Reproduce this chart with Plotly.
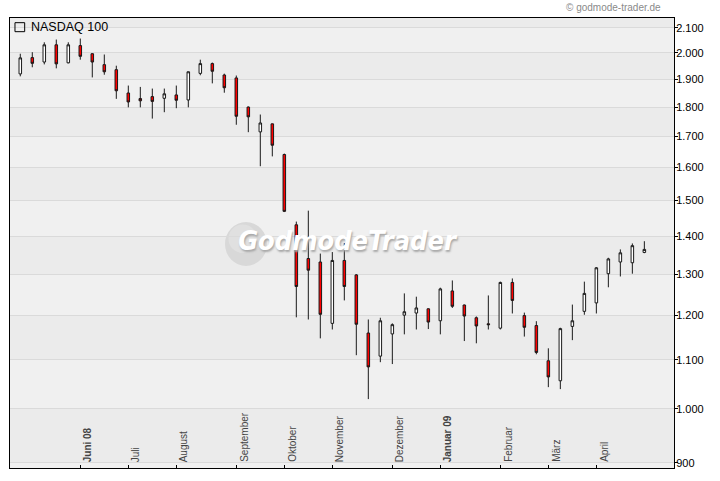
import math
import pandas as pd
import plotly.graph_objects as go

# ---------------- data (weekly NASDAQ 100, week starting dates) ----------------
first_week = "2008-04-28"
opens = [1920, 1982, 1965, 2032, 1962, 2029, 1997, 1955, 1936, 1850,
         1830, 1837, 1831, 1843, 1825, 1922, 1959, 1916, 1905, 1800,
         1715, 1742, 1641, 1431, 1340, 1331, 1181, 1335, 1298, 1159,
         1108, 1157, 1200, 1205, 1215, 1187, 1258, 1224, 1194, 1180,
         1170, 1279, 1199, 1176, 1098, 1056, 1174, 1209, 1229, 1301,
         1331, 1329, 1356]
highs = [1997, 2003, 2042, 2053, 2042, 2057, 1999, 1994, 1951, 1877,
         1872, 1866, 1866, 1877, 1929, 1974, 1963, 1921, 1914, 1802,
         1774, 1743, 1644, 1440, 1471, 1353, 1357, 1381, 1300, 1190,
         1194, 1181, 1252, 1244, 1216, 1266, 1284, 1225, 1197, 1247,
         1281, 1289, 1206, 1186, 1125, 1171, 1225, 1281, 1318, 1342,
         1364, 1380, 1386]
lows = [1911, 1945, 1956, 1941, 1960, 1974, 1907, 1917, 1829, 1799,
        1799, 1760, 1782, 1796, 1799, 1915, 1885, 1851, 1739, 1714,
        1604, 1635, 1467, 1195, 1190, 1147, 1167, 1235, 1110, 1019,
        1095, 1091, 1156, 1167, 1168, 1156, 1217, 1141, 1136, 1167,
        1167, 1204, 1151, 1112, 1043, 1039, 1143, 1201, 1204, 1267,
        1294, 1301, 1354]
closes = [1981, 1960, 2032, 1958, 2032, 1987, 1965, 1928, 1858, 1818,
          1822, 1820, 1847, 1824, 1928, 1959, 1930, 1869, 1768, 1766,
          1745, 1671, 1469, 1269, 1310, 1202, 1335, 1269, 1179, 1085,
          1187, 1178, 1208, 1217, 1184, 1263, 1221, 1198, 1175, 1178,
          1279, 1235, 1172, 1116, 1064, 1169, 1187, 1252, 1316, 1339,
          1355, 1374, 1364]
weeks = pd.date_range(first_week, periods=len(opens), freq="7D")

month_ticks = ["2008-06-02", "2008-06-30", "2008-07-28", "2008-09-01",
               "2008-09-29", "2008-10-27", "2008-12-01", "2008-12-29",
               "2009-02-02", "2009-03-02", "2009-03-30"]
month_labels = ["<b>Juni 08</b>", "Juli", "August", "September", "Oktober",
                "November", "Dezember", "<b>Januar 09</b>", "Februar",
                "März", "April"]
y_ticks = [900, 1000, 1100, 1200, 1300, 1400, 1500, 1600, 1700, 1800,
           1900, 2000, 2100]
y_labels = ["900", "1.000", "1.100", "1.200", "1.300", "1.400", "1.500",
            "1.600", "1.700", "1.800", "1.900", "2.000", "2.100"]
y_min, y_max = 891, 2141
x_range = ["2008-04-22", "2009-05-14 07:00"]

# ---------------- figure ----------------
fig = go.Figure()

# watermark text (below the candles)
fig.add_trace(go.Scatter(
    x=["2008-11-04 14:00"], y=[1381], mode="text",
    text=["GodmodeTrader"],
    textfont=dict(family="Liberation Sans Narrow, DejaVu Sans Condensed, sans-serif",
                  size=27, color="white", weight="bold", style="italic",
                  shadow="1px 2px 2px #a8a8a8"),
    hoverinfo="skip", showlegend=False))

fig.add_trace(go.Candlestick(
    x=weeks, open=opens, high=highs, low=lows, close=closes,
    increasing=dict(fillcolor="#ffffff", line=dict(color="#1a1a1a", width=1)),
    decreasing=dict(fillcolor="#ff0000", line=dict(color="#1a1a1a", width=1)),
    whiskerwidth=0, showlegend=False, hoverinfo="skip"))

shapes = []
# alternating background bands
for i in range(len(y_ticks)):
    if i % 2 == 0:
        top = y_ticks[i + 1] if i + 1 < len(y_ticks) else y_max
        shapes.append(dict(type="rect", xref="paper", yref="y", x0=0, x1=1,
                           y0=y_ticks[i], y1=top, fillcolor="#ebebeb",
                           line=dict(width=0), layer="below"))
# watermark sphere
shapes.append(dict(type="circle", xref="paper", yref="paper",
                   x0=0.3238, x1=0.387, y0=0.4489, y1=0.5467,
                   fillcolor="#d8d8d8", line=dict(width=0), layer="between"))
shapes.append(dict(type="circle", xref="paper", yref="paper",
                   x0=0.329, x1=0.372, y0=0.478, y1=0.541,
                   fillcolor="#e0e0e0", line=dict(width=0), layer="between"))
# legend square
shapes.append(dict(type="rect", xref="paper", yref="paper",
                   x0=0.0075, x1=0.0221, y0=0.9696, y1=0.9896,
                   fillcolor="rgba(0,0,0,0)", line=dict(color="black", width=1),
                   layer="above"))

annotations = [
    dict(text="NASDAQ 100", xref="paper", yref="paper", x=0.0285, y=0.980,
         xanchor="left", yanchor="middle", showarrow=False,
         font=dict(size=12.5, color="black")),
    dict(text="© godmode-trader.de", xref="paper", yref="paper",
         x=0.984, y=1.0244, xanchor="right", yanchor="middle",
         showarrow=False, font=dict(size=10, color="#8a8a8a")),
]
for tv, tl in zip(month_ticks, month_labels):
    annotations.append(dict(text=tl, xref="x", yref="paper", x=tv, y=0,
                            xanchor="left", yanchor="bottom", textangle=-90,
                            xshift=0, yshift=4, showarrow=False,
                            font=dict(size=10, color="#444444")))

fig.update_layout(
    width=720, height=481, autosize=False,
    margin=dict(l=10, r=46, t=18, b=13, pad=0),
    paper_bgcolor="white", plot_bgcolor="#f0f0f0",
    font=dict(family="Arial, Liberation Sans, sans-serif", color="black"),
    hovermode=False, showlegend=False, boxgap=0.7,
    shapes=shapes, annotations=annotations,
    xaxis=dict(type="date", range=x_range, rangeslider=dict(visible=False),
               tickmode="array", tickvals=month_ticks, showticklabels=False,
               ticks="inside", ticklen=3, tickcolor="black", showgrid=False,
               showline=True, linecolor="black", linewidth=1, mirror=True,
               zeroline=False, automargin=False, fixedrange=True),
    yaxis=dict(type="log", range=[math.log10(y_min), math.log10(y_max)],
               side="right", tickmode="array", tickvals=y_ticks,
               ticktext=y_labels, ticks="outside", ticklen=3,
               tickcolor="black", tickfont=dict(size=11, color="black"),
               ticklabelstandoff=-4,
               showgrid=True, gridcolor="#dadada", gridwidth=1,
               showline=True, linecolor="black", linewidth=1, mirror=True,
               zeroline=False, automargin=False, fixedrange=True),
)

fig.write_html("out.html", config={"displayModeBar": False, "staticPlot": True},
               post_script="document.body.style.margin='0px';")
